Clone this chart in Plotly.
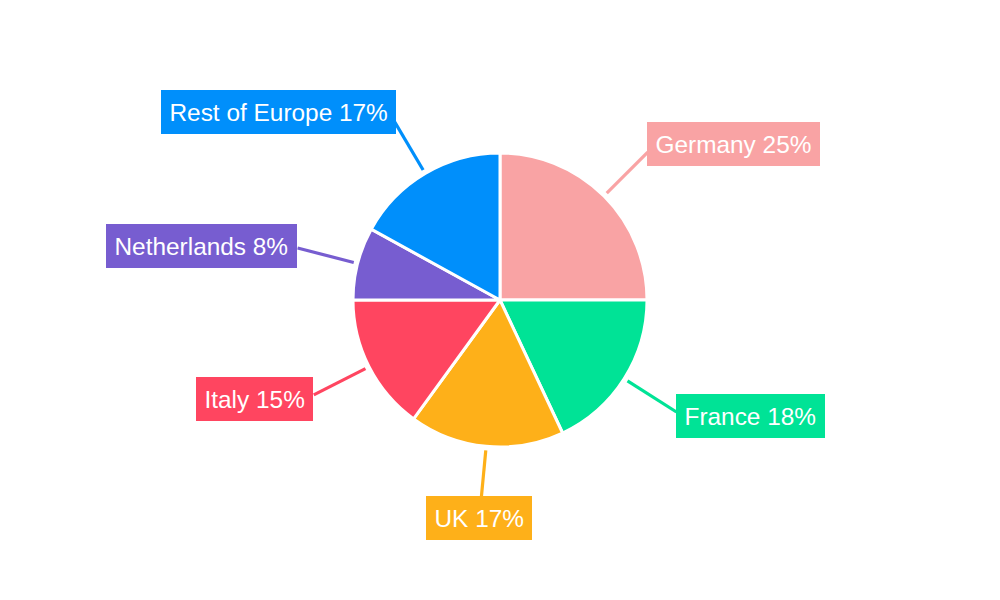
import math
import plotly.graph_objects as go

# ---- data ----
countries = ["Germany", "France", "UK", "Italy", "Netherlands", "Rest of Europe"]
shares = [25, 18, 17, 15, 8, 17]
colors = ["#F9A3A4", "#00E396", "#FEB019", "#FF4560", "#775DD0", "#008FFB"]

# ---- layout constants ----
W, H = 1000, 600
CX, CY, R = 500, 300, 147          # pie centre / radius in px
LINE_START = R + 4                  # leader line start (px from centre)
LINE_END = R + 62                   # leader line end
label_yshift = [8.7, -3.7, -9.5, -4.6, 2.5, 8.5]   # fine vertical nudges (px, up positive)
label_xshift = [-1, 0, -1, -1, -1, 2]                # fine horizontal nudges (px)

fig = go.Figure(go.Pie(
    labels=countries,
    values=shares,
    marker=dict(colors=colors, line=dict(color="white", width=3)),
    sort=False,
    direction="clockwise",
    rotation=0,
    textinfo="none",
    hoverinfo="skip",
    domain=dict(x=[(CX - R) / W, (CX + R) / W], y=[(H - CY - R) / H, (H - CY + R) / H]),
    showlegend=False,
))

total = sum(shares)
shapes = []
annotations = []
cum = 0
for i, (name, v, col) in enumerate(zip(countries, shares, colors)):
    mid = (cum + v / 2) / total * 2 * math.pi
    cum += v
    sx, sy = math.sin(mid), -math.cos(mid)   # screen direction (y down)
    x0, y0 = CX + LINE_START * sx, CY + LINE_START * sy
    x1, y1 = CX + LINE_END * sx, CY + LINE_END * sy
    shapes.append(dict(type="line", xref="paper", yref="paper",
                       x0=x0 / W, y0=1 - y0 / H, x1=x1 / W, y1=1 - y1 / H,
                       line=dict(color=col, width=3.2), layer="above"))
    if abs(sx) > 0.3:
        xanchor = "left" if sx > 0 else "right"
    else:
        xanchor = "center"
    pct = round(v / total * 100)
    annotations.append(dict(
        x=x1 / W, y=1 - y1 / H, xref="paper", yref="paper",
        xanchor=xanchor, yanchor="middle",
        yshift=label_yshift[i], xshift=label_xshift[i],
        text=f"{name} {pct}%", showarrow=False,
        font=dict(family="Liberation Sans, Arial, sans-serif", size=24.4, color="white"),
        bgcolor=col, borderpad=8.5, borderwidth=0,
    ))

fig.update_layout(
    width=W, height=H,
    margin=dict(l=0, r=0, t=0, b=0),
    paper_bgcolor="white", plot_bgcolor="white",
    shapes=shapes, annotations=annotations,
    hovermode=False,
)

fig.write_html("out.html", config={"displayModeBar": False},
               post_script="document.body.style.margin='0';document.body.style.overflow='hidden';")
